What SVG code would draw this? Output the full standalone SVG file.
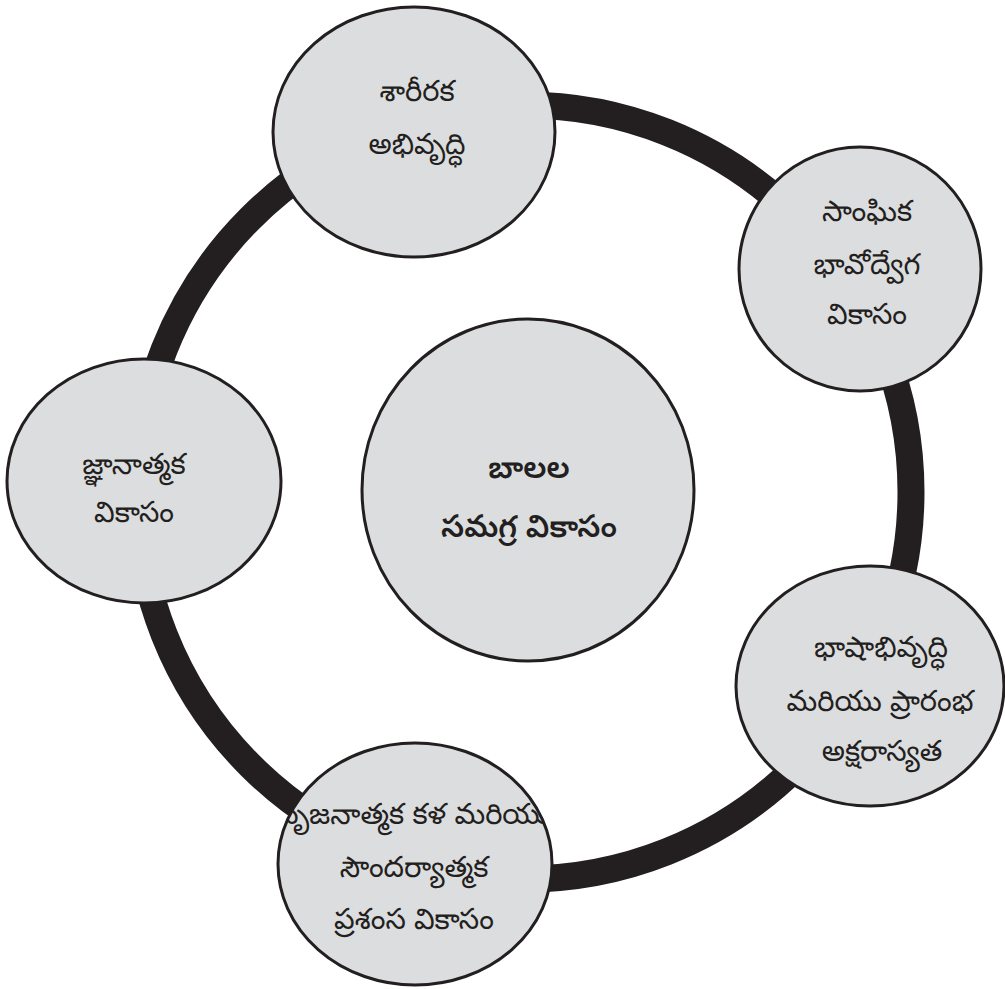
<svg xmlns="http://www.w3.org/2000/svg" width="1005" height="989" viewBox="0 0 1005 989">
<style>
.node{fill:#dcdddf;stroke:#231f20;stroke-width:3}
.ring{fill:none;stroke:#231f20;stroke-width:27}
text{font-family:"Noto Sans Telugu","Noto Sans",sans-serif;font-size:29px;fill:#231f20;text-anchor:middle}
.b{font-weight:600;font-size:31px}
</style>
<defs>
<clipPath id="clipBottom"><ellipse cx="415" cy="864" rx="137" ry="121"/></clipPath>
</defs>
<g id="connectors">
<circle class="ring" cx="524" cy="492" r="387"/>
</g>
<g id="node-center">
<ellipse class="node" cx="528" cy="490" rx="166" ry="171"/>
<text class="b" x="529" y="478">బాలల</text>
<text class="b" x="529" y="537">సమగ్ర వికాసం</text>
</g>
<g id="node-top">
<ellipse class="node" cx="414" cy="132" rx="141" ry="125"/>
<text x="417" y="101">శారీరక</text>
<text x="417" y="154">అభివృద్ధి</text>
</g>
<g id="node-right-upper">
<ellipse class="node" cx="860" cy="269" rx="121" ry="122"/>
<text x="867" y="221">సాంఘిక</text>
<text x="867" y="274">భావోద్వేగ</text>
<text x="867" y="324">వికాసం</text>
</g>
<g id="node-left">
<ellipse class="node" cx="144" cy="481" rx="137" ry="122"/>
<text x="134" y="474">జ్ఞానాత్మక</text>
<text x="134" y="522">వికాసం</text>
</g>
<g id="node-right-lower">
<ellipse class="node" cx="870" cy="686" rx="134" ry="120"/>
<text x="881" y="657">భాషాభివృద్ధి</text>
<text x="880" y="711">మరియు ప్రారంభ</text>
<text x="882" y="761">అక్షరాస్యత</text>
</g>
<g id="node-bottom">
<ellipse class="node" cx="415" cy="864" rx="137" ry="121"/>
<text x="414" y="824" clip-path="url(#clipBottom)">సృజనాత్మక కళ మరియు</text>
<text x="414" y="877">సౌందర్యాత్మక</text>
<text x="414" y="929">ప్రశంస వికాసం</text>
</g>
</svg>
